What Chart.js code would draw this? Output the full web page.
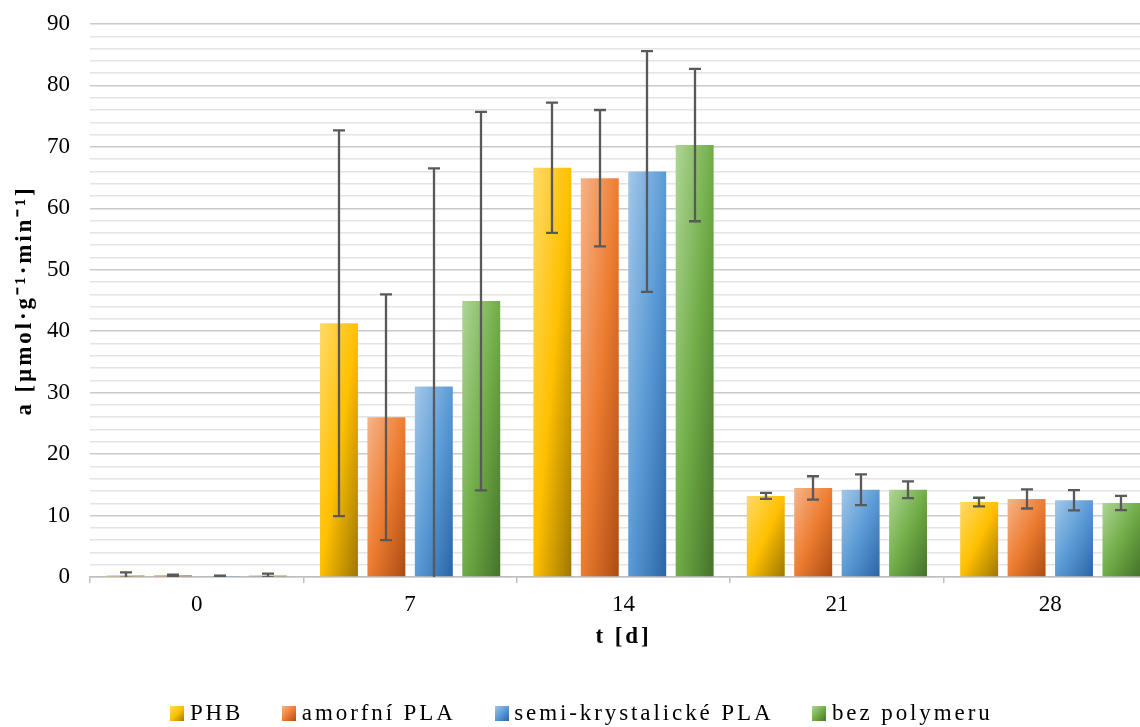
<!DOCTYPE html>
<html><head><meta charset="utf-8">
<script src="https://cdn.jsdelivr.net/npm/chart.js@4/dist/chart.umd.min.js"></script>
<style>
html,body{margin:0;padding:0;overflow:hidden;background:#fff;width:1140px;height:727px}
#wrap{width:1172px;height:727px}
canvas{display:block}
</style>
</head><body><div id="wrap"><canvas id="c" width="1172" height="727"></canvas></div>
<script>
// ---- data ----
const categories = ['0', '7', '14', '21', '28'];
const seriesNames = ['PHB', 'amorfní PLA', 'semi-krystalické PLA', 'bez polymeru'];
const phb      = [0.3, 41.3, 66.6, 13.2, 12.2];
const phbErr   = [0.45, 31.4, 10.6, 0.5, 0.7];
const amorf    = [0.3, 26.0, 64.9, 14.5, 12.7];
const amorfErr = [0.1, 20.0, 11.1, 1.9, 1.55];
const semi     = [0.1, 31.0, 66.0, 14.2, 12.5];
const semiErr  = [0.1, 35.5, 19.6, 2.5, 1.65];
const bez      = [0.25, 44.9, 70.3, 14.2, 12.05];
const bezErr   = [0.3, 30.8, 12.4, 1.35, 1.15];
const yMin = 0, yMax = 90, yMinorStep = 2, yMajorStep = 10;
const xTitle = 't [d]';
const yTitle = 'a [µmol·g⁻¹·min⁻¹]';

// ---- styles ----
const palette = [
  ['#FFDA6A', '#FFC000', '#9E7700'],
  ['#F5B48A', '#ED7D31', '#AC4C12'],
  ['#A3C8E9', '#5B9BD5', '#2B65A4'],
  ['#AFD596', '#70AD47', '#457229']
];
const values = [phb, amorf, semi, bez];
const errors = [phbErr, amorfErr, semiErr, bezErr];
const LS = '2.9px';

// gradient scaled with shape: isolines parallel to the rectangle's anti-diagonal
function fillGrad(g2d, left, top, w, h, c) {
  const k = 2 * w * h / (w * w + h * h);
  const g = g2d.createLinearGradient(left, top, left + k * h, top + k * w);
  g.addColorStop(0, c[0]);
  g.addColorStop(0.5, c[1]);
  g.addColorStop(1, c[2]);
  return g;
}
function barFill(ctx) {
  const c = palette[ctx.datasetIndex];
  const el = ctx.element;
  if (ctx.type !== 'data' || !el || el.x == null || isNaN(el.x) || !el.width) return c[1];
  const left = el.x - el.width / 2;
  const top = Math.min(el.y, el.base);
  const h = Math.max(1, Math.abs(el.base - el.y));
  return fillGrad(ctx.chart.ctx, left, top, el.width, h, c);
}
const legendImgs = palette.map(c => {
  const cv = document.createElement('canvas');
  cv.width = 14; cv.height = 15;
  const g = cv.getContext('2d');
  g.fillStyle = fillGrad(g, 0, 0, 14, 15, c);
  g.fillRect(0, 0, 14, 15);
  return cv;
});

// tick labels without letter spacing
const origDrawLabels = Chart.Scale.prototype.drawLabels;
Chart.Scale.prototype.drawLabels = function (a) {
  const c = this.ctx; const ls = c.letterSpacing;
  c.letterSpacing = '0px';
  origDrawLabels.call(this, a);
  c.letterSpacing = ls;
};

const spacingPlugin = {
  id: 'spacing',
  beforeUpdate(chart) { chart.ctx.letterSpacing = LS; },
  beforeLayout(chart) { chart.ctx.letterSpacing = LS; },
  beforeDraw(chart) { chart.ctx.letterSpacing = LS; }
};

const errPlugin = {
  id: 'errbars',
  afterDatasetsDraw(chart) {
    const {ctx, chartArea: a, scales: {y}} = chart;
    ctx.save();
    ctx.beginPath();
    ctx.rect(a.left, a.top - 30, a.right - a.left, a.bottom - a.top + 30);
    ctx.clip();
    ctx.strokeStyle = '#595959';
    ctx.lineWidth = 2.3;
    chart.data.datasets.forEach((ds, i) => {
      const meta = chart.getDatasetMeta(i);
      meta.data.forEach((el, j) => {
        const v = ds.data[j], e = errors[i][j];
        const yt = y.getPixelForValue(v + e), yb = y.getPixelForValue(v - e);
        const x = Math.round(el.x), cw = 6;
        ctx.beginPath();
        ctx.moveTo(x, yt); ctx.lineTo(x, yb);
        ctx.moveTo(x - cw, yt); ctx.lineTo(x + cw, yt);
        ctx.moveTo(x - cw, yb); ctx.lineTo(x + cw, yb);
        ctx.stroke();
      });
    });
    ctx.restore();
  }
};

const canvas = document.getElementById('c');
const serif = 'Liberation Serif, Times New Roman, serif';
const chart = new Chart(canvas, {
  type: 'bar',
  data: {
    labels: categories,
    datasets: seriesNames.map((n, i) => ({
      label: n,
      data: values[i],
      backgroundColor: barFill,
      borderWidth: 0,
      barPercentage: 0.8,
      categoryPercentage: 0.889
    }))
  },
  options: {
    responsive: false,
    devicePixelRatio: 1,
    animation: false,
    layout: {padding: {top: 24, right: 15, left: 12, bottom: -8}},
    plugins: {
      tooltip: {enabled: false},
      legend: {
        position: 'bottom',
        labels: {
          usePointStyle: true,
          pointStyleWidth: 2,
          padding: 45,
          color: '#000',
          font: {family: serif, size: 23},
          generateLabels(ch) {
            const items = Chart.defaults.plugins.legend.labels.generateLabels(ch);
            items.forEach((it, i) => { it.pointStyle = legendImgs[i]; });
            return items;
          }
        }
      }
    },
    scales: {
      x: {
        grid: {offset: true, drawOnChartArea: false, drawTicks: true, tickLength: 6, color: '#BFBFBF', lineWidth: 1.5},
        border: {display: true, color: '#BFBFBF', width: 1.5},
        ticks: {color: '#000', padding: 8, font: {family: serif, size: 23}},
        title: {display: true, text: xTitle, color: '#000', padding: {top: 0, bottom: 6}, font: {family: serif, size: 23, weight: 'bold'}},
        afterFit(s) { s.height = 80; s.paddingLeft = 0; s.paddingRight = 0; }
      },
      y: {
        min: yMin, max: yMax,
        border: {display: false},
        grid: {
          drawTicks: false,
          color: c => (c.tick && c.tick.value % yMajorStep === 0) ? '#CACACA' : '#E4E4E4',
          lineWidth: 1.5
        },
        ticks: {
          stepSize: yMinorStep, autoSkip: false, padding: 20, color: '#000',
          font: {family: serif, size: 23},
          callback: v => (v % yMajorStep === 0 ? String(v) : '')
        },
        title: {display: true, text: yTitle, color: '#000', padding: {top: -1, bottom: 0}, font: {family: serif, size: 23, weight: 'bold'}},
        afterFit(s) { s.width = 78; s.paddingTop = 0; s.paddingBottom = 0; }
      }
    }
  },
  plugins: [spacingPlugin, errPlugin]
});
chart.update();
</script>
</body></html>
